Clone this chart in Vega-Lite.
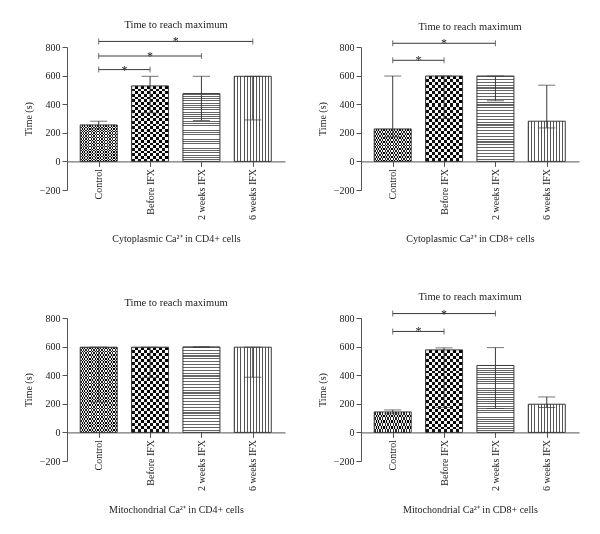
{
  "$schema": "https://vega.github.io/schema/vega-lite/v6.json",
  "padding": {"left": 23, "top": 19, "right": 5, "bottom": 5},
  "background": "white",
  "params": [
    {"name": "gpc", "value": {"gradient": "linear", "x1": 0, "y1": 0, "x2": 1, "y2": 0, "stops": [{"offset":0,"color":"#222"},{"offset":0.0357,"color":"#222"},{"offset":0.0357,"color":"#fff"},{"offset":0.0714,"color":"#fff"},{"offset":0.0714,"color":"#222"},{"offset":0.1071,"color":"#222"},{"offset":0.1071,"color":"#fff"},{"offset":0.1429,"color":"#fff"},{"offset":0.1429,"color":"#222"},{"offset":0.1786,"color":"#222"},{"offset":0.1786,"color":"#fff"},{"offset":0.2143,"color":"#fff"},{"offset":0.2143,"color":"#222"},{"offset":0.25,"color":"#222"},{"offset":0.25,"color":"#fff"},{"offset":0.2857,"color":"#fff"},{"offset":0.2857,"color":"#222"},{"offset":0.3214,"color":"#222"},{"offset":0.3214,"color":"#fff"},{"offset":0.3571,"color":"#fff"},{"offset":0.3571,"color":"#222"},{"offset":0.3929,"color":"#222"},{"offset":0.3929,"color":"#fff"},{"offset":0.4286,"color":"#fff"},{"offset":0.4286,"color":"#222"},{"offset":0.4643,"color":"#222"},{"offset":0.4643,"color":"#fff"},{"offset":0.5,"color":"#fff"},{"offset":0.5,"color":"#222"},{"offset":0.5357,"color":"#222"},{"offset":0.5357,"color":"#fff"},{"offset":0.5714,"color":"#fff"},{"offset":0.5714,"color":"#222"},{"offset":0.6071,"color":"#222"},{"offset":0.6071,"color":"#fff"},{"offset":0.6429,"color":"#fff"},{"offset":0.6429,"color":"#222"},{"offset":0.6786,"color":"#222"},{"offset":0.6786,"color":"#fff"},{"offset":0.7143,"color":"#fff"},{"offset":0.7143,"color":"#222"},{"offset":0.75,"color":"#222"},{"offset":0.75,"color":"#fff"},{"offset":0.7857,"color":"#fff"},{"offset":0.7857,"color":"#222"},{"offset":0.8214,"color":"#222"},{"offset":0.8214,"color":"#fff"},{"offset":0.8571,"color":"#fff"},{"offset":0.8571,"color":"#222"},{"offset":0.8929,"color":"#222"},{"offset":0.8929,"color":"#fff"},{"offset":0.9286,"color":"#fff"},{"offset":0.9286,"color":"#222"},{"offset":0.9643,"color":"#222"},{"offset":0.9643,"color":"#fff"},{"offset":1,"color":"#fff"}]}},
    {"name": "goc", "value": {"gradient": "linear", "x1": 0, "y1": 0, "x2": 0, "y2": 1, "stops": [{"offset":0,"color":"#fff"},{"offset":0.0208,"color":"#fff"},{"offset":0.0208,"color":"#000"},{"offset":0.0417,"color":"#000"},{"offset":0.0417,"color":"#fff"},{"offset":0.0625,"color":"#fff"},{"offset":0.0625,"color":"#000"},{"offset":0.0833,"color":"#000"},{"offset":0.0833,"color":"#fff"},{"offset":0.1042,"color":"#fff"},{"offset":0.1042,"color":"#000"},{"offset":0.125,"color":"#000"},{"offset":0.125,"color":"#fff"},{"offset":0.1458,"color":"#fff"},{"offset":0.1458,"color":"#000"},{"offset":0.1667,"color":"#000"},{"offset":0.1667,"color":"#fff"},{"offset":0.1875,"color":"#fff"},{"offset":0.1875,"color":"#000"},{"offset":0.2083,"color":"#000"},{"offset":0.2083,"color":"#fff"},{"offset":0.2292,"color":"#fff"},{"offset":0.2292,"color":"#000"},{"offset":0.25,"color":"#000"},{"offset":0.25,"color":"#fff"},{"offset":0.2708,"color":"#fff"},{"offset":0.2708,"color":"#000"},{"offset":0.2917,"color":"#000"},{"offset":0.2917,"color":"#fff"},{"offset":0.3125,"color":"#fff"},{"offset":0.3125,"color":"#000"},{"offset":0.3333,"color":"#000"},{"offset":0.3333,"color":"#fff"},{"offset":0.3542,"color":"#fff"},{"offset":0.3542,"color":"#000"},{"offset":0.375,"color":"#000"},{"offset":0.375,"color":"#fff"},{"offset":0.3958,"color":"#fff"},{"offset":0.3958,"color":"#000"},{"offset":0.4167,"color":"#000"},{"offset":0.4167,"color":"#fff"},{"offset":0.4375,"color":"#fff"},{"offset":0.4375,"color":"#000"},{"offset":0.4583,"color":"#000"},{"offset":0.4583,"color":"#fff"},{"offset":0.4792,"color":"#fff"},{"offset":0.4792,"color":"#000"},{"offset":0.5,"color":"#000"},{"offset":0.5,"color":"#fff"},{"offset":0.5208,"color":"#fff"},{"offset":0.5208,"color":"#000"},{"offset":0.5417,"color":"#000"},{"offset":0.5417,"color":"#fff"},{"offset":0.5625,"color":"#fff"},{"offset":0.5625,"color":"#000"},{"offset":0.5833,"color":"#000"},{"offset":0.5833,"color":"#fff"},{"offset":0.6042,"color":"#fff"},{"offset":0.6042,"color":"#000"},{"offset":0.625,"color":"#000"},{"offset":0.625,"color":"#fff"},{"offset":0.6458,"color":"#fff"},{"offset":0.6458,"color":"#000"},{"offset":0.6667,"color":"#000"},{"offset":0.6667,"color":"#fff"},{"offset":0.6875,"color":"#fff"},{"offset":0.6875,"color":"#000"},{"offset":0.7083,"color":"#000"},{"offset":0.7083,"color":"#fff"},{"offset":0.7292,"color":"#fff"},{"offset":0.7292,"color":"#000"},{"offset":0.75,"color":"#000"},{"offset":0.75,"color":"#fff"},{"offset":0.7708,"color":"#fff"},{"offset":0.7708,"color":"#000"},{"offset":0.7917,"color":"#000"},{"offset":0.7917,"color":"#fff"},{"offset":0.8125,"color":"#fff"},{"offset":0.8125,"color":"#000"},{"offset":0.8333,"color":"#000"},{"offset":0.8333,"color":"#fff"},{"offset":0.8542,"color":"#fff"},{"offset":0.8542,"color":"#000"},{"offset":0.875,"color":"#000"},{"offset":0.875,"color":"#fff"},{"offset":0.8958,"color":"#fff"},{"offset":0.8958,"color":"#000"},{"offset":0.9167,"color":"#000"},{"offset":0.9167,"color":"#fff"},{"offset":0.9375,"color":"#fff"},{"offset":0.9375,"color":"#000"},{"offset":0.9583,"color":"#000"},{"offset":0.9583,"color":"#fff"},{"offset":0.9792,"color":"#fff"},{"offset":0.9792,"color":"#000"},{"offset":1,"color":"#000"}]}},
    {"name": "gpb", "value": {"gradient": "linear", "x1": 0, "y1": 0, "x2": 1, "y2": 0, "stops": [{"offset":0,"color":"#111"},{"offset":0.0833,"color":"#111"},{"offset":0.0833,"color":"#fff"},{"offset":0.1667,"color":"#fff"},{"offset":0.1667,"color":"#111"},{"offset":0.25,"color":"#111"},{"offset":0.25,"color":"#fff"},{"offset":0.3333,"color":"#fff"},{"offset":0.3333,"color":"#111"},{"offset":0.4167,"color":"#111"},{"offset":0.4167,"color":"#fff"},{"offset":0.5,"color":"#fff"},{"offset":0.5,"color":"#111"},{"offset":0.5833,"color":"#111"},{"offset":0.5833,"color":"#fff"},{"offset":0.6667,"color":"#fff"},{"offset":0.6667,"color":"#111"},{"offset":0.75,"color":"#111"},{"offset":0.75,"color":"#fff"},{"offset":0.8333,"color":"#fff"},{"offset":0.8333,"color":"#111"},{"offset":0.9167,"color":"#111"},{"offset":0.9167,"color":"#fff"},{"offset":1,"color":"#fff"}]}},
    {"name": "gob", "value": {"gradient": "linear", "x1": 0, "y1": 0, "x2": 0, "y2": 1, "stops": [{"offset":0,"color":"#fff"},{"offset":0.0357,"color":"#fff"},{"offset":0.0357,"color":"#000"},{"offset":0.0714,"color":"#000"},{"offset":0.0714,"color":"#fff"},{"offset":0.1071,"color":"#fff"},{"offset":0.1071,"color":"#000"},{"offset":0.1429,"color":"#000"},{"offset":0.1429,"color":"#fff"},{"offset":0.1786,"color":"#fff"},{"offset":0.1786,"color":"#000"},{"offset":0.2143,"color":"#000"},{"offset":0.2143,"color":"#fff"},{"offset":0.25,"color":"#fff"},{"offset":0.25,"color":"#000"},{"offset":0.2857,"color":"#000"},{"offset":0.2857,"color":"#fff"},{"offset":0.3214,"color":"#fff"},{"offset":0.3214,"color":"#000"},{"offset":0.3571,"color":"#000"},{"offset":0.3571,"color":"#fff"},{"offset":0.3929,"color":"#fff"},{"offset":0.3929,"color":"#000"},{"offset":0.4286,"color":"#000"},{"offset":0.4286,"color":"#fff"},{"offset":0.4643,"color":"#fff"},{"offset":0.4643,"color":"#000"},{"offset":0.5,"color":"#000"},{"offset":0.5,"color":"#fff"},{"offset":0.5357,"color":"#fff"},{"offset":0.5357,"color":"#000"},{"offset":0.5714,"color":"#000"},{"offset":0.5714,"color":"#fff"},{"offset":0.6071,"color":"#fff"},{"offset":0.6071,"color":"#000"},{"offset":0.6429,"color":"#000"},{"offset":0.6429,"color":"#fff"},{"offset":0.6786,"color":"#fff"},{"offset":0.6786,"color":"#000"},{"offset":0.7143,"color":"#000"},{"offset":0.7143,"color":"#fff"},{"offset":0.75,"color":"#fff"},{"offset":0.75,"color":"#000"},{"offset":0.7857,"color":"#000"},{"offset":0.7857,"color":"#fff"},{"offset":0.8214,"color":"#fff"},{"offset":0.8214,"color":"#000"},{"offset":0.8571,"color":"#000"},{"offset":0.8571,"color":"#fff"},{"offset":0.8929,"color":"#fff"},{"offset":0.8929,"color":"#000"},{"offset":0.9286,"color":"#000"},{"offset":0.9286,"color":"#fff"},{"offset":0.9643,"color":"#fff"},{"offset":0.9643,"color":"#000"},{"offset":1,"color":"#000"}]}},
    {"name": "gp2", "value": {"gradient": "linear", "x1": 0, "y1": 0, "x2": 0, "y2": 1, "stops": [{"offset":0,"color":"#666"},{"offset":0.0133,"color":"#666"},{"offset":0.0133,"color":"#fff"},{"offset":0.0333,"color":"#fff"},{"offset":0.0333,"color":"#666"},{"offset":0.0467,"color":"#666"},{"offset":0.0467,"color":"#fff"},{"offset":0.0667,"color":"#fff"},{"offset":0.0667,"color":"#666"},{"offset":0.08,"color":"#666"},{"offset":0.08,"color":"#fff"},{"offset":0.1,"color":"#fff"},{"offset":0.1,"color":"#666"},{"offset":0.1133,"color":"#666"},{"offset":0.1133,"color":"#fff"},{"offset":0.1333,"color":"#fff"},{"offset":0.1333,"color":"#666"},{"offset":0.1467,"color":"#666"},{"offset":0.1467,"color":"#fff"},{"offset":0.1667,"color":"#fff"},{"offset":0.1667,"color":"#666"},{"offset":0.18,"color":"#666"},{"offset":0.18,"color":"#fff"},{"offset":0.2,"color":"#fff"},{"offset":0.2,"color":"#666"},{"offset":0.2133,"color":"#666"},{"offset":0.2133,"color":"#fff"},{"offset":0.2333,"color":"#fff"},{"offset":0.2333,"color":"#666"},{"offset":0.2467,"color":"#666"},{"offset":0.2467,"color":"#fff"},{"offset":0.2667,"color":"#fff"},{"offset":0.2667,"color":"#666"},{"offset":0.28,"color":"#666"},{"offset":0.28,"color":"#fff"},{"offset":0.3,"color":"#fff"},{"offset":0.3,"color":"#666"},{"offset":0.3133,"color":"#666"},{"offset":0.3133,"color":"#fff"},{"offset":0.3333,"color":"#fff"},{"offset":0.3333,"color":"#666"},{"offset":0.3467,"color":"#666"},{"offset":0.3467,"color":"#fff"},{"offset":0.3667,"color":"#fff"},{"offset":0.3667,"color":"#666"},{"offset":0.38,"color":"#666"},{"offset":0.38,"color":"#fff"},{"offset":0.4,"color":"#fff"},{"offset":0.4,"color":"#666"},{"offset":0.4133,"color":"#666"},{"offset":0.4133,"color":"#fff"},{"offset":0.4333,"color":"#fff"},{"offset":0.4333,"color":"#666"},{"offset":0.4467,"color":"#666"},{"offset":0.4467,"color":"#fff"},{"offset":0.4667,"color":"#fff"},{"offset":0.4667,"color":"#666"},{"offset":0.48,"color":"#666"},{"offset":0.48,"color":"#fff"},{"offset":0.5,"color":"#fff"},{"offset":0.5,"color":"#666"},{"offset":0.5133,"color":"#666"},{"offset":0.5133,"color":"#fff"},{"offset":0.5333,"color":"#fff"},{"offset":0.5333,"color":"#666"},{"offset":0.5467,"color":"#666"},{"offset":0.5467,"color":"#fff"},{"offset":0.5667,"color":"#fff"},{"offset":0.5667,"color":"#666"},{"offset":0.58,"color":"#666"},{"offset":0.58,"color":"#fff"},{"offset":0.6,"color":"#fff"},{"offset":0.6,"color":"#666"},{"offset":0.6133,"color":"#666"},{"offset":0.6133,"color":"#fff"},{"offset":0.6333,"color":"#fff"},{"offset":0.6333,"color":"#666"},{"offset":0.6467,"color":"#666"},{"offset":0.6467,"color":"#fff"},{"offset":0.6667,"color":"#fff"},{"offset":0.6667,"color":"#666"},{"offset":0.68,"color":"#666"},{"offset":0.68,"color":"#fff"},{"offset":0.7,"color":"#fff"},{"offset":0.7,"color":"#666"},{"offset":0.7133,"color":"#666"},{"offset":0.7133,"color":"#fff"},{"offset":0.7333,"color":"#fff"},{"offset":0.7333,"color":"#666"},{"offset":0.7467,"color":"#666"},{"offset":0.7467,"color":"#fff"},{"offset":0.7667,"color":"#fff"},{"offset":0.7667,"color":"#666"},{"offset":0.78,"color":"#666"},{"offset":0.78,"color":"#fff"},{"offset":0.8,"color":"#fff"},{"offset":0.8,"color":"#666"},{"offset":0.8133,"color":"#666"},{"offset":0.8133,"color":"#fff"},{"offset":0.8333,"color":"#fff"},{"offset":0.8333,"color":"#666"},{"offset":0.8467,"color":"#666"},{"offset":0.8467,"color":"#fff"},{"offset":0.8667,"color":"#fff"},{"offset":0.8667,"color":"#666"},{"offset":0.88,"color":"#666"},{"offset":0.88,"color":"#fff"},{"offset":0.9,"color":"#fff"},{"offset":0.9,"color":"#666"},{"offset":0.9133,"color":"#666"},{"offset":0.9133,"color":"#fff"},{"offset":0.9333,"color":"#fff"},{"offset":0.9333,"color":"#666"},{"offset":0.9467,"color":"#666"},{"offset":0.9467,"color":"#fff"},{"offset":0.9667,"color":"#fff"},{"offset":0.9667,"color":"#666"},{"offset":0.98,"color":"#666"},{"offset":0.98,"color":"#fff"},{"offset":1,"color":"#fff"}]}},
    {"name": "gp6", "value": {"gradient": "linear", "x1": 0, "y1": 0, "x2": 1, "y2": 0, "stops": [{"offset":0,"color":"#555"},{"offset":0.027,"color":"#555"},{"offset":0.027,"color":"#fff"},{"offset":0.0833,"color":"#fff"},{"offset":0.0833,"color":"#555"},{"offset":0.1103,"color":"#555"},{"offset":0.1103,"color":"#fff"},{"offset":0.1667,"color":"#fff"},{"offset":0.1667,"color":"#555"},{"offset":0.1937,"color":"#555"},{"offset":0.1937,"color":"#fff"},{"offset":0.25,"color":"#fff"},{"offset":0.25,"color":"#555"},{"offset":0.277,"color":"#555"},{"offset":0.277,"color":"#fff"},{"offset":0.3333,"color":"#fff"},{"offset":0.3333,"color":"#555"},{"offset":0.3603,"color":"#555"},{"offset":0.3603,"color":"#fff"},{"offset":0.4167,"color":"#fff"},{"offset":0.4167,"color":"#555"},{"offset":0.4437,"color":"#555"},{"offset":0.4437,"color":"#fff"},{"offset":0.5,"color":"#fff"},{"offset":0.5,"color":"#555"},{"offset":0.527,"color":"#555"},{"offset":0.527,"color":"#fff"},{"offset":0.5833,"color":"#fff"},{"offset":0.5833,"color":"#555"},{"offset":0.6103,"color":"#555"},{"offset":0.6103,"color":"#fff"},{"offset":0.6667,"color":"#fff"},{"offset":0.6667,"color":"#555"},{"offset":0.6937,"color":"#555"},{"offset":0.6937,"color":"#fff"},{"offset":0.75,"color":"#fff"},{"offset":0.75,"color":"#555"},{"offset":0.777,"color":"#555"},{"offset":0.777,"color":"#fff"},{"offset":0.8333,"color":"#fff"},{"offset":0.8333,"color":"#555"},{"offset":0.8603,"color":"#555"},{"offset":0.8603,"color":"#fff"},{"offset":0.9167,"color":"#fff"},{"offset":0.9167,"color":"#555"},{"offset":0.9437,"color":"#555"},{"offset":0.9437,"color":"#fff"},{"offset":1,"color":"#fff"}]}}
  ],
  "columns": 2,
  "spacing": {"row": 48, "column": 32},
  "concat": [
    {
      "title": "Time to reach maximum",
      "width": 218, "height": 143,
      "data": {"values": [
        {"i": 0, "name": "Control", "v": 255, "lo": 228, "hi": 281},
        {"i": 1, "name": "Before IFX", "v": 528, "lo": 340, "hi": 595},
        {"i": 2, "name": "2 weeks IFX", "v": 474, "lo": 286, "hi": 595},
        {"i": 3, "name": "6 weeks IFX", "v": 595, "lo": 290, "hi": 595}
      ]},
      "encoding": {
        "x": {"field": "i", "type": "quantitative", "scale": {"domain": [-0.52, 3.53], "nice": false, "zero": false},
              "axis": {"values": [0, 1, 2, 3], "labelExpr": "['Control','Before IFX','2 weeks IFX','6 weeks IFX'][datum.value]", "labelAngle": -90, "offset": -28.6, "title": "Cytoplasmic Ca²⁺ in CD4+ cells", "titlePadding": 14}},
        "y": {"field": "v", "type": "quantitative", "scale": {"domain": [-200, 800], "nice": false, "zero": false},
              "axis": {"values": [-200, 0, 200, 400, 600, 800], "title": "Time (s)", "titlePadding": 6}}
      },
      "layer": [
        {"transform": [{"filter": "datum.i==0"}], "mark": {"type": "bar", "width": 37, "fill": {"expr": "gpc"}}},
        {"transform": [{"filter": "datum.i==1"}], "mark": {"type": "bar", "width": 37, "fill": {"expr": "gpb"}}},
        {"transform": [{"filter": "datum.i==2"}], "mark": {"type": "bar", "width": 37, "fill": {"expr": "gp2"}}},
        {"transform": [{"filter": "datum.i==3"}], "mark": {"type": "bar", "width": 37, "fill": {"expr": "gp6"}}},
        {"transform": [{"filter": "datum.i==0"}], "mark": {"type": "bar", "width": 37, "fill": {"expr": "goc"}, "blend": "difference"}},
        {"transform": [{"filter": "datum.i==1"}], "mark": {"type": "bar", "width": 37, "fill": {"expr": "gob"}, "blend": "difference"}},
        {"mark": {"type": "bar", "width": 37, "fill": "transparent", "stroke": "#3a3a3a", "strokeWidth": 1}},
        {"mark": {"type": "rule", "color": "#3a3a3a"}, "encoding": {"y": {"field": "lo", "type": "quantitative", "scale": {"domain": [-200, 800], "nice": false, "zero": false}}, "y2": {"field": "hi"}}},
        {"mark": {"type": "tick", "orient": "horizontal", "size": 17, "thickness": 1, "color": "#3a3a3a"}, "encoding": {"y": {"field": "lo", "type": "quantitative", "scale": {"domain": [-200, 800], "nice": false, "zero": false}}}},
        {"mark": {"type": "tick", "orient": "horizontal", "size": 17, "thickness": 1, "color": "#3a3a3a"}, "encoding": {"y": {"field": "hi", "type": "quantitative", "scale": {"domain": [-200, 800], "nice": false, "zero": false}}}},
        {"data": {"values": [{"a": 0, "b": 1, "m": 0.5, "y": 642}, {"a": 0, "b": 2, "m": 1, "y": 737}, {"a": 0, "b": 3, "m": 1.5, "y": 839}]},
         "mark": {"type": "rule", "color": "#3a3a3a"},
         "encoding": {"x": {"field": "a", "type": "quantitative", "scale": {"domain": [-0.52, 3.53], "nice": false, "zero": false}}, "x2": {"field": "b"}, "y": {"field": "y", "type": "quantitative", "scale": {"domain": [-200, 800], "nice": false, "zero": false}}}},
        {"data": {"values": [{"a": 0, "b": 1, "m": 0.5, "y": 642}, {"a": 0, "b": 2, "m": 1, "y": 737}, {"a": 0, "b": 3, "m": 1.5, "y": 839}]},
         "transform": [{"fold": ["a", "b"], "as": ["end", "xe"]}],
         "mark": {"type": "tick", "orient": "vertical", "size": 6, "thickness": 1, "color": "#3a3a3a"},
         "encoding": {"x": {"field": "xe", "type": "quantitative", "scale": {"domain": [-0.52, 3.53], "nice": false, "zero": false}}, "y": {"field": "y", "type": "quantitative", "scale": {"domain": [-200, 800], "nice": false, "zero": false}}}},
        {"data": {"values": [{"a": 0, "b": 1, "m": 0.5, "y": 642}, {"a": 0, "b": 2, "m": 1, "y": 737}, {"a": 0, "b": 3, "m": 1.5, "y": 839}]},
         "mark": {"type": "text", "text": "*", "fontSize": 12, "dy": 4, "baseline": "alphabetic", "color": "#222"},
         "encoding": {"x": {"field": "m", "type": "quantitative", "scale": {"domain": [-0.52, 3.53], "nice": false, "zero": false}}, "y": {"field": "y", "type": "quantitative", "scale": {"domain": [-200, 800], "nice": false, "zero": false}}}}
      ]
    },
    {
      "title": "Time to reach maximum",
      "width": 218, "height": 143,
      "data": {"values": [
        {"i": 0, "name": "Control", "v": 227, "lo": 172, "hi": 597},
        {"i": 1, "name": "Before IFX", "v": 597, "lo": 300, "hi": 597},
        {"i": 2, "name": "2 weeks IFX", "v": 597, "lo": 424, "hi": 597},
        {"i": 3, "name": "6 weeks IFX", "v": 281, "lo": 234, "hi": 533}
      ]},
      "encoding": {
        "x": {"field": "i", "type": "quantitative", "scale": {"domain": [-0.52, 3.53], "nice": false, "zero": false},
              "axis": {"values": [0, 1, 2, 3], "labelExpr": "['Control','Before IFX','2 weeks IFX','6 weeks IFX'][datum.value]", "labelAngle": -90, "offset": -28.6, "title": "Cytoplasmic Ca²⁺ in CD8+ cells", "titlePadding": 14}},
        "y": {"field": "v", "type": "quantitative", "scale": {"domain": [-200, 800], "nice": false, "zero": false},
              "axis": {"values": [-200, 0, 200, 400, 600, 800], "title": "Time (s)", "titlePadding": 6}}
      },
      "layer": [
        {"transform": [{"filter": "datum.i==0"}], "mark": {"type": "bar", "width": 37, "fill": {"expr": "gpc"}}},
        {"transform": [{"filter": "datum.i==1"}], "mark": {"type": "bar", "width": 37, "fill": {"expr": "gpb"}}},
        {"transform": [{"filter": "datum.i==2"}], "mark": {"type": "bar", "width": 37, "fill": {"expr": "gp2"}}},
        {"transform": [{"filter": "datum.i==3"}], "mark": {"type": "bar", "width": 37, "fill": {"expr": "gp6"}}},
        {"transform": [{"filter": "datum.i==0"}], "mark": {"type": "bar", "width": 37, "fill": {"expr": "goc"}, "blend": "difference"}},
        {"transform": [{"filter": "datum.i==1"}], "mark": {"type": "bar", "width": 37, "fill": {"expr": "gob"}, "blend": "difference"}},
        {"mark": {"type": "bar", "width": 37, "fill": "transparent", "stroke": "#3a3a3a", "strokeWidth": 1}},
        {"mark": {"type": "rule", "color": "#3a3a3a"}, "encoding": {"y": {"field": "lo", "type": "quantitative", "scale": {"domain": [-200, 800], "nice": false, "zero": false}}, "y2": {"field": "hi"}}},
        {"mark": {"type": "tick", "orient": "horizontal", "size": 17, "thickness": 1, "color": "#3a3a3a"}, "encoding": {"y": {"field": "lo", "type": "quantitative", "scale": {"domain": [-200, 800], "nice": false, "zero": false}}}},
        {"mark": {"type": "tick", "orient": "horizontal", "size": 17, "thickness": 1, "color": "#3a3a3a"}, "encoding": {"y": {"field": "hi", "type": "quantitative", "scale": {"domain": [-200, 800], "nice": false, "zero": false}}}},
        {"data": {"values": [{"a": 0, "b": 1, "m": 0.5, "y": 707}, {"a": 0, "b": 2, "m": 1, "y": 826}]},
         "mark": {"type": "rule", "color": "#3a3a3a"},
         "encoding": {"x": {"field": "a", "type": "quantitative", "scale": {"domain": [-0.52, 3.53], "nice": false, "zero": false}}, "x2": {"field": "b"}, "y": {"field": "y", "type": "quantitative", "scale": {"domain": [-200, 800], "nice": false, "zero": false}}}},
        {"data": {"values": [{"a": 0, "b": 1, "m": 0.5, "y": 707}, {"a": 0, "b": 2, "m": 1, "y": 826}]},
         "transform": [{"fold": ["a", "b"], "as": ["end", "xe"]}],
         "mark": {"type": "tick", "orient": "vertical", "size": 6, "thickness": 1, "color": "#3a3a3a"},
         "encoding": {"x": {"field": "xe", "type": "quantitative", "scale": {"domain": [-0.52, 3.53], "nice": false, "zero": false}}, "y": {"field": "y", "type": "quantitative", "scale": {"domain": [-200, 800], "nice": false, "zero": false}}}},
        {"data": {"values": [{"a": 0, "b": 1, "m": 0.5, "y": 707}, {"a": 0, "b": 2, "m": 1, "y": 826}]},
         "mark": {"type": "text", "text": "*", "fontSize": 12, "dy": 4, "baseline": "alphabetic", "color": "#222"},
         "encoding": {"x": {"field": "m", "type": "quantitative", "scale": {"domain": [-0.52, 3.53], "nice": false, "zero": false}}, "y": {"field": "y", "type": "quantitative", "scale": {"domain": [-200, 800], "nice": false, "zero": false}}}}
      ]
    },
    {
      "title": "Time to reach maximum",
      "width": 218, "height": 143,
      "data": {"values": [
        {"i": 0, "name": "Control", "v": 596, "lo": 212, "hi": 596},
        {"i": 1, "name": "Before IFX", "v": 596, "lo": 385, "hi": 596},
        {"i": 2, "name": "2 weeks IFX", "v": 598, "lo": 595, "hi": 598},
        {"i": 3, "name": "6 weeks IFX", "v": 596, "lo": 386, "hi": 596}
      ]},
      "encoding": {
        "x": {"field": "i", "type": "quantitative", "scale": {"domain": [-0.52, 3.53], "nice": false, "zero": false},
              "axis": {"values": [0, 1, 2, 3], "labelExpr": "['Control','Before IFX','2 weeks IFX','6 weeks IFX'][datum.value]", "labelAngle": -90, "offset": -28.6, "title": "Mitochondrial Ca²⁺ in CD4+ cells", "titlePadding": 14}},
        "y": {"field": "v", "type": "quantitative", "scale": {"domain": [-200, 800], "nice": false, "zero": false},
              "axis": {"values": [-200, 0, 200, 400, 600, 800], "title": "Time (s)", "titlePadding": 6}}
      },
      "layer": [
        {"transform": [{"filter": "datum.i==0"}], "mark": {"type": "bar", "width": 37, "fill": {"expr": "gpc"}}},
        {"transform": [{"filter": "datum.i==1"}], "mark": {"type": "bar", "width": 37, "fill": {"expr": "gpb"}}},
        {"transform": [{"filter": "datum.i==2"}], "mark": {"type": "bar", "width": 37, "fill": {"expr": "gp2"}}},
        {"transform": [{"filter": "datum.i==3"}], "mark": {"type": "bar", "width": 37, "fill": {"expr": "gp6"}}},
        {"transform": [{"filter": "datum.i==0"}], "mark": {"type": "bar", "width": 37, "fill": {"expr": "goc"}, "blend": "difference"}},
        {"transform": [{"filter": "datum.i==1"}], "mark": {"type": "bar", "width": 37, "fill": {"expr": "gob"}, "blend": "difference"}},
        {"mark": {"type": "bar", "width": 37, "fill": "transparent", "stroke": "#3a3a3a", "strokeWidth": 1}},
        {"mark": {"type": "rule", "color": "#3a3a3a"}, "encoding": {"y": {"field": "lo", "type": "quantitative", "scale": {"domain": [-200, 800], "nice": false, "zero": false}}, "y2": {"field": "hi"}}},
        {"mark": {"type": "tick", "orient": "horizontal", "size": 17, "thickness": 1, "color": "#3a3a3a"}, "encoding": {"y": {"field": "lo", "type": "quantitative", "scale": {"domain": [-200, 800], "nice": false, "zero": false}}}},
        {"mark": {"type": "tick", "orient": "horizontal", "size": 17, "thickness": 1, "color": "#3a3a3a"}, "encoding": {"y": {"field": "hi", "type": "quantitative", "scale": {"domain": [-200, 800], "nice": false, "zero": false}}}}
      ]
    },
    {
      "title": "Time to reach maximum",
      "width": 218, "height": 143,
      "data": {"values": [
        {"i": 0, "name": "Control", "v": 143, "lo": 130, "hi": 157},
        {"i": 1, "name": "Before IFX", "v": 577, "lo": 175, "hi": 591},
        {"i": 2, "name": "2 weeks IFX", "v": 468, "lo": 167, "hi": 593},
        {"i": 3, "name": "6 weeks IFX", "v": 197, "lo": 174, "hi": 248}
      ]},
      "encoding": {
        "x": {"field": "i", "type": "quantitative", "scale": {"domain": [-0.52, 3.53], "nice": false, "zero": false},
              "axis": {"values": [0, 1, 2, 3], "labelExpr": "['Control','Before IFX','2 weeks IFX','6 weeks IFX'][datum.value]", "labelAngle": -90, "offset": -28.6, "title": "Mitochondrial Ca²⁺ in CD8+ cells", "titlePadding": 14}},
        "y": {"field": "v", "type": "quantitative", "scale": {"domain": [-200, 800], "nice": false, "zero": false},
              "axis": {"values": [-200, 0, 200, 400, 600, 800], "title": "Time (s)", "titlePadding": 6}}
      },
      "layer": [
        {"transform": [{"filter": "datum.i==0"}], "mark": {"type": "bar", "width": 37, "fill": {"expr": "gpc"}}},
        {"transform": [{"filter": "datum.i==1"}], "mark": {"type": "bar", "width": 37, "fill": {"expr": "gpb"}}},
        {"transform": [{"filter": "datum.i==2"}], "mark": {"type": "bar", "width": 37, "fill": {"expr": "gp2"}}},
        {"transform": [{"filter": "datum.i==3"}], "mark": {"type": "bar", "width": 37, "fill": {"expr": "gp6"}}},
        {"transform": [{"filter": "datum.i==0"}], "mark": {"type": "bar", "width": 37, "fill": {"expr": "goc"}, "blend": "difference"}},
        {"transform": [{"filter": "datum.i==1"}], "mark": {"type": "bar", "width": 37, "fill": {"expr": "gob"}, "blend": "difference"}},
        {"mark": {"type": "bar", "width": 37, "fill": "transparent", "stroke": "#3a3a3a", "strokeWidth": 1}},
        {"mark": {"type": "rule", "color": "#3a3a3a"}, "encoding": {"y": {"field": "lo", "type": "quantitative", "scale": {"domain": [-200, 800], "nice": false, "zero": false}}, "y2": {"field": "hi"}}},
        {"mark": {"type": "tick", "orient": "horizontal", "size": 17, "thickness": 1, "color": "#3a3a3a"}, "encoding": {"y": {"field": "lo", "type": "quantitative", "scale": {"domain": [-200, 800], "nice": false, "zero": false}}}},
        {"mark": {"type": "tick", "orient": "horizontal", "size": 17, "thickness": 1, "color": "#3a3a3a"}, "encoding": {"y": {"field": "hi", "type": "quantitative", "scale": {"domain": [-200, 800], "nice": false, "zero": false}}}},
        {"data": {"values": [{"a": 0, "b": 1, "m": 0.5, "y": 706}, {"a": 0, "b": 2, "m": 1, "y": 831}]},
         "mark": {"type": "rule", "color": "#3a3a3a"},
         "encoding": {"x": {"field": "a", "type": "quantitative", "scale": {"domain": [-0.52, 3.53], "nice": false, "zero": false}}, "x2": {"field": "b"}, "y": {"field": "y", "type": "quantitative", "scale": {"domain": [-200, 800], "nice": false, "zero": false}}}},
        {"data": {"values": [{"a": 0, "b": 1, "m": 0.5, "y": 706}, {"a": 0, "b": 2, "m": 1, "y": 831}]},
         "transform": [{"fold": ["a", "b"], "as": ["end", "xe"]}],
         "mark": {"type": "tick", "orient": "vertical", "size": 6, "thickness": 1, "color": "#3a3a3a"},
         "encoding": {"x": {"field": "xe", "type": "quantitative", "scale": {"domain": [-0.52, 3.53], "nice": false, "zero": false}}, "y": {"field": "y", "type": "quantitative", "scale": {"domain": [-200, 800], "nice": false, "zero": false}}}},
        {"data": {"values": [{"a": 0, "b": 1, "m": 0.5, "y": 706}, {"a": 0, "b": 2, "m": 1, "y": 831}]},
         "mark": {"type": "text", "text": "*", "fontSize": 12, "dy": 4, "baseline": "alphabetic", "color": "#222"},
         "encoding": {"x": {"field": "m", "type": "quantitative", "scale": {"domain": [-0.52, 3.53], "nice": false, "zero": false}}, "y": {"field": "y", "type": "quantitative", "scale": {"domain": [-200, 800], "nice": false, "zero": false}}}}
      ]
    }
  ],
  "config": {
    "font": "Liberation Serif",
    "view": {"stroke": null},
    "axis": {"labelFont": "Liberation Serif", "labelFontSize": 10, "labelColor": "#222", "titleFont": "Liberation Serif", "titleFontSize": 10, "titleFontWeight": "normal", "titleColor": "#222", "domainColor": "#555", "tickColor": "#555", "grid": false, "tickSize": 5, "labelPadding": 2},
    "title": {"font": "Liberation Serif", "fontSize": 10.5, "fontWeight": "normal", "color": "#222", "offset": 5, "anchor": "middle", "frame": "group"}
  }
}
